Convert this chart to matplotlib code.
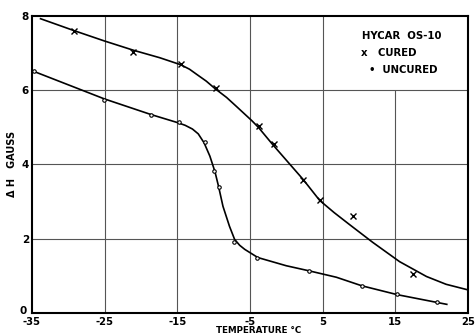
import numpy as np
import matplotlib.pyplot as plt
import matplotlib.transforms as mtransforms

# measured points
cured_t = [-29.2, -21.1, -14.5, -9.7, -3.8, -1.7, 2.3, 4.6, 9.2, 17.4]
cured_h = [7.60, 7.03, 6.71, 6.06, 5.02, 4.56, 3.59, 3.03, 2.62, 1.06]
uncured_t = [-34.7, -25.1, -18.6, -14.8, -11.2, -10.0, -9.3, -7.2, -4.0, 3.2, 10.4, 15.3, 20.8]
uncured_h = [6.52, 5.74, 5.34, 5.15, 4.59, 3.81, 3.40, 1.92, 1.49, 1.12, 0.72, 0.50, 0.28]

# hand-drawn smooth curves
cured_line_t = [-33.8, -29.2, -25.0, -21.0, -17.4, -14.5, -13.3, -12.3, -11.0, -9.8, -8.2,
                -6.8, -4.7, -3.8, -1.85, 0.2, 2.3, 4.6, 6.6, 8.7, 11.9, 15.6, 19.3, 22.0, 24.8]
cured_line_h = [7.92, 7.60, 7.32, 7.07, 6.87, 6.68, 6.56, 6.42, 6.24, 6.04, 5.80,
                5.55, 5.17, 4.99, 4.53, 4.07, 3.60, 3.03, 2.70, 2.38, 1.90, 1.38, 0.98, 0.77, 0.63]
uncured_line_t = [-34.7, -25.0, -18.6, -14.9, -13.9, -12.9, -12.1, -11.3, -10.5, -9.8, -9.3,
                  -8.7, -7.8, -7.1, -6.4, -5.7, -3.9, 0.0, 3.2, 6.9, 10.4, 15.3, 22.1]
uncured_line_h = [6.50, 5.76, 5.34, 5.12, 5.05, 4.95, 4.82, 4.58, 4.22, 3.80, 3.40,
                  2.87, 2.33, 1.98, 1.82, 1.71, 1.49, 1.27, 1.13, 0.96, 0.73, 0.49, 0.23]

xticks = [-35, -25, -15, -5, 5, 15, 25]
yticks = [0, 2, 4, 6, 8]

plt.rcParams['font.family'] = 'DejaVu Sans'
plt.rcParams['font.weight'] = 'bold'

fig = plt.figure(figsize=(4.75, 3.35), dpi=100)
ax = fig.add_axes([0.067, 0.066, 0.918, 0.887])

for x in [-25, -15, -5, 5]:
    ax.axvline(x, color='#555555', lw=0.8, zorder=0)
ax.vlines(15, 0, 6, color='#555555', lw=0.8, zorder=0)
for y in [2, 4, 6]:
    ax.axhline(y, color='#555555', lw=0.8, zorder=0)

ax.plot(cured_line_t, cured_line_h, color='black', lw=1.2)
ax.plot(uncured_line_t, uncured_line_h, color='black', lw=1.2)
ax.plot(cured_t, cured_h, 'x', color='black', ms=4, mew=1.0)
ax.plot(uncured_t, uncured_h, 'o', color='black', ms=2.5, mfc='white', mew=0.8)

ax.text(15.9, 7.46, 'HYCAR  OS-10', ha='center', va='center', fontsize=7.3, fontweight='bold')
ax.text(10.3, 7.0, 'x   CURED', ha='left', va='center', fontsize=7.3, fontweight='bold')
ax.text(11.4, 6.55, '\u2022  UNCURED', ha='left', va='center', fontsize=7.3, fontweight='bold')

ax.set_xlim(-35, 25)
ax.set_ylim(0, 8)
ax.set_xticks(xticks)
ax.set_yticks(yticks)
ax.set_xticklabels([str(v) for v in xticks], fontsize=7.2, fontweight='bold')
ax.set_yticklabels([str(v) for v in yticks], fontsize=7.5, fontweight='bold')
ax.tick_params(axis='y', length=0, pad=2)
ax.tick_params(axis='x', length=0, pad=3)
# lift the "0" label a little so it sits clear of "-35"
lab0 = ax.get_yticklabels()[0]
lab0.set_transform(lab0.get_transform() + mtransforms.ScaledTranslation(-0.02, 0.03, fig.dpi_scale_trans))
for s in ax.spines.values():
    s.set_linewidth(1.5)

ax.set_xlabel('TEMPERATURE \u00b0C', fontsize=6.3, fontweight='bold')
ax.xaxis.set_label_coords(0.52, -0.044, transform=ax.transAxes)
ax.xaxis.label.set_va('top')
ax.set_ylabel('\u0394 H   GAUSS', fontsize=7, fontweight='bold', labelpad=2)

fig.savefig('out.png', dpi=100)
